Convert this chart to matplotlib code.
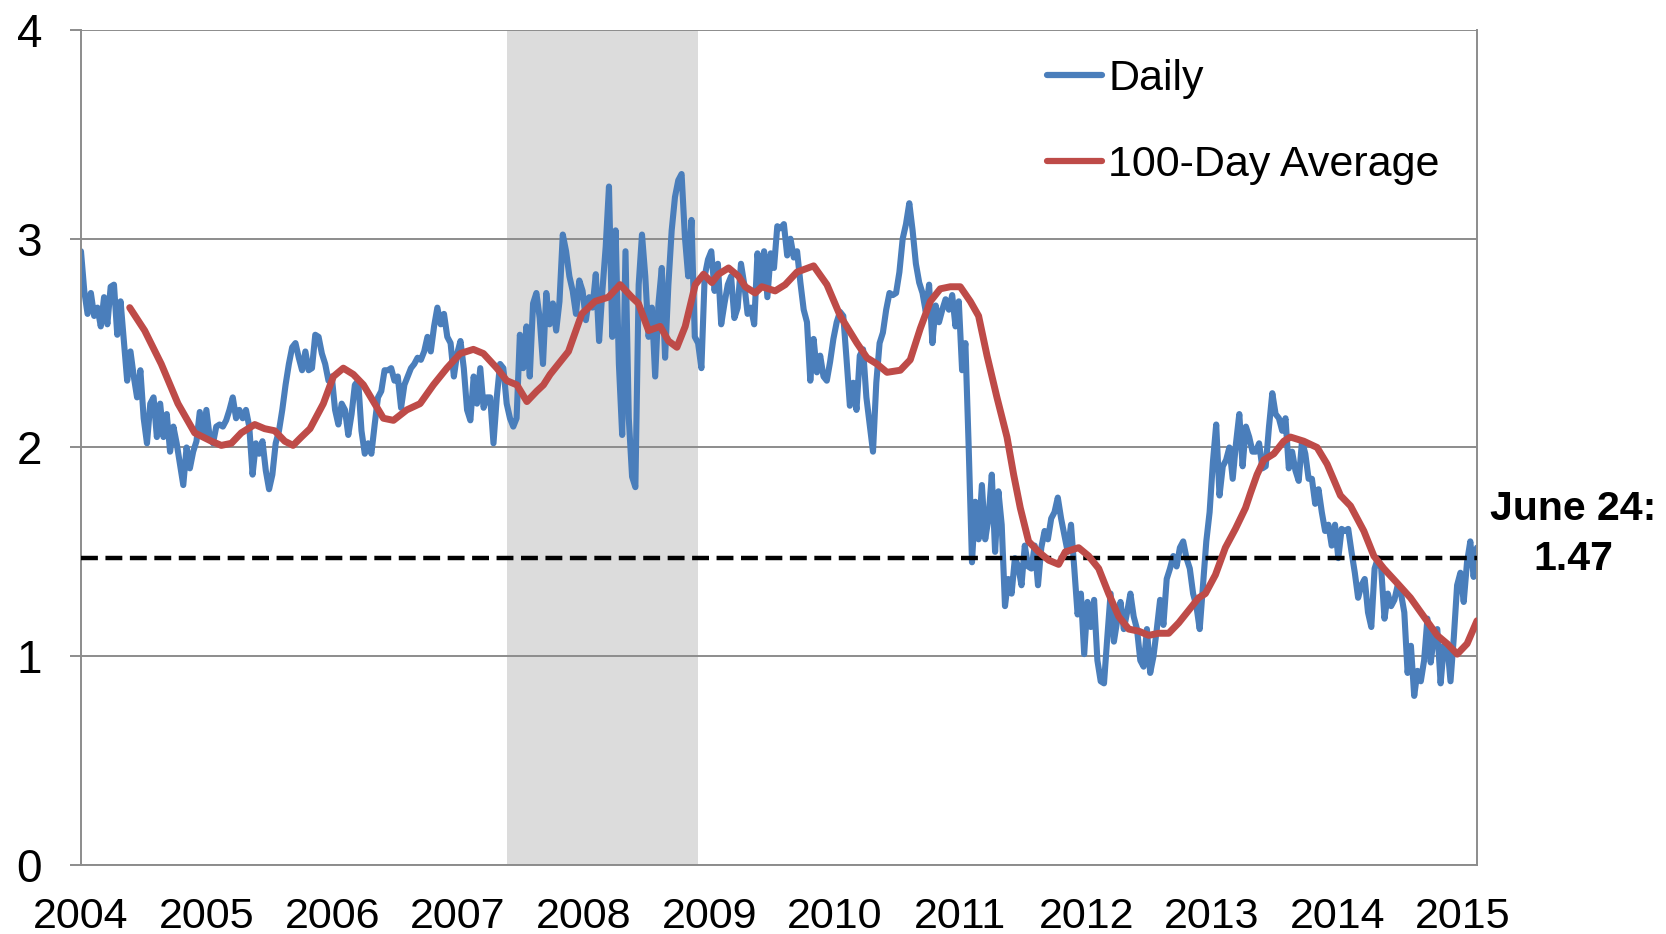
import numpy as np
import matplotlib
matplotlib.use("Agg")
import matplotlib.pyplot as plt

plt.rcParams['font.family'] = ['Liberation Sans', 'DejaVu Sans']

# ---------------- data ----------------
year_labels = ['2004', '2005', '2006', '2007', '2008', '2009', '2010',
               '2011', '2012', '2013', '2014', '2015']
x_end = 11.11                      # data span on the year-label scale
recession = (3.39, 4.91)           # shaded period on the same scale
june24_value = 1.47

daily = [
    # 2004 - mid 2006
    2.94, 2.75, 2.64, 2.74, 2.63, 2.67, 2.58, 2.72, 2.59, 2.77, 2.78, 2.54, 2.70, 2.51, 2.32,
    2.46, 2.34, 2.24, 2.37, 2.14, 2.02, 2.21, 2.24, 2.05, 2.21, 2.05, 2.16, 1.98, 2.10, 2.02,
    1.92, 1.82, 2.00, 1.90, 1.98, 2.03, 2.17, 2.05, 2.18, 2.05, 2.02, 2.10, 2.11, 2.10, 2.13,
    2.18, 2.24, 2.14, 2.18, 2.14, 2.18, 2.10, 1.87, 2.02, 1.97, 2.03, 1.89, 1.80, 1.87, 2.02,
    2.08, 2.18, 2.30, 2.40, 2.48, 2.50, 2.43, 2.37, 2.46, 2.37,
    # mid 2006 - 2008
    2.38, 2.54, 2.53, 2.45, 2.40, 2.32, 2.34, 2.18, 2.11, 2.21, 2.18, 2.06, 2.16, 2.30, 2.32,
    2.08, 1.97, 2.02, 1.97, 2.11, 2.24, 2.27, 2.37, 2.37, 2.38, 2.32, 2.34, 2.19, 2.30, 2.34,
    2.38, 2.40, 2.43, 2.42, 2.46, 2.53, 2.46, 2.58, 2.67, 2.59, 2.64, 2.53, 2.50, 2.34, 2.45,
    2.51, 2.38, 2.18, 2.13, 2.34, 2.21, 2.38, 2.19, 2.24, 2.24, 2.02, 2.24, 2.40, 2.38, 2.21,
    2.14, 2.10, 2.14, 2.54, 2.38, 2.58, 2.34, 2.69, 2.74, 2.62,
    # 2008 - 2009
    2.40, 2.74, 2.59, 2.69, 2.56, 2.70, 3.02, 2.94, 2.82, 2.75, 2.64, 2.80, 2.75, 2.61, 2.72,
    2.67, 2.83, 2.51, 2.75, 2.96, 3.25, 2.53, 3.04, 2.40, 2.06, 2.94, 2.14, 1.86, 1.81, 2.78,
    3.02, 2.82, 2.53, 2.67, 2.34, 2.69, 2.86, 2.43, 2.78, 3.04, 3.20, 3.28, 3.31, 3.01, 2.82,
    3.09, 2.53, 2.50, 2.38, 2.82, 2.90, 2.94, 2.75, 2.88, 2.59, 2.69, 2.78, 2.82, 2.62, 2.67,
    2.88, 2.78, 2.64, 2.67, 2.59, 2.93, 2.78, 2.94, 2.72, 2.93, 2.86, 3.06,
    # 2009 - 2011
    3.05, 3.07, 2.92, 3.00, 2.91, 2.94, 2.79, 2.66, 2.60, 2.32, 2.52, 2.36, 2.44, 2.34, 2.32,
    2.41, 2.52, 2.60, 2.65, 2.63, 2.42, 2.20, 2.31, 2.18, 2.44, 2.47, 2.24, 2.11, 1.98, 2.31,
    2.50, 2.55, 2.66, 2.74, 2.73, 2.74, 2.84, 3.00, 3.07, 3.17, 3.04, 2.88, 2.79, 2.74, 2.65,
    2.78, 2.50, 2.68, 2.60, 2.66, 2.71, 2.66, 2.73, 2.58, 2.70, 2.37, 2.50, 2.00, 1.45, 1.74,
    1.56, 1.82, 1.56, 1.66, 1.87, 1.50, 1.79, 1.63, 1.24, 1.37, 1.30, 1.47,
    # 2011 - 2013
    1.43, 1.34, 1.53, 1.43, 1.42, 1.53, 1.34, 1.52, 1.60, 1.56, 1.66, 1.69, 1.76, 1.66, 1.58,
    1.50, 1.63, 1.42, 1.20, 1.30, 1.01, 1.26, 1.14, 1.27, 0.98, 0.88, 0.87, 1.09, 1.30, 1.07,
    1.17, 1.26, 1.13, 1.21, 1.30, 1.19, 1.13, 0.98, 0.95, 1.13, 0.92, 1.00, 1.13, 1.27, 1.15,
    1.37, 1.42, 1.48, 1.43, 1.52, 1.55, 1.47, 1.42, 1.30, 1.24, 1.13, 1.34, 1.55, 1.69, 1.93,
    2.11, 1.77, 1.91, 1.94, 2.00, 1.85, 2.02, 2.16, 1.91, 2.10, 2.05, 1.98,
    # 2013 - June 2015
    1.98, 2.02, 1.90, 1.91, 2.10, 2.26, 2.16, 2.14, 2.08, 2.14, 1.90, 1.98, 1.89, 1.84, 2.03,
    1.97, 1.85, 1.85, 1.73, 1.80, 1.69, 1.60, 1.63, 1.53, 1.63, 1.47, 1.61, 1.60, 1.61, 1.50,
    1.40, 1.28, 1.34, 1.37, 1.21, 1.14, 1.42, 1.47, 1.42, 1.18, 1.30, 1.24, 1.27, 1.34, 1.30,
    1.21, 0.92, 1.05, 0.81, 0.93, 0.88, 0.98, 1.18, 0.97, 1.10, 1.13, 0.87, 1.05, 1.06, 0.88,
    1.09, 1.34, 1.40, 1.26, 1.45, 1.55, 1.38, 1.52,
]

avg_t = [
    0.388, 0.507, 0.639, 0.772, 0.905, 1.038, 1.117, 1.197, 1.276, 1.383, 1.462, 1.542, 1.622, 1.688, 1.754,
    1.823, 1.929, 2.009, 2.088, 2.168, 2.248, 2.327, 2.407, 2.487, 2.593, 2.699, 2.805, 2.912, 3.018, 3.123,
    3.203, 3.310, 3.389, 3.469, 3.549, 3.628, 3.681, 3.734,
    3.774, 3.880, 3.986, 4.092, 4.198, 4.291, 4.384, 4.437, 4.517, 4.610, 4.676, 4.743, 4.809, 4.889, 4.955,
    5.021, 5.074, 5.154, 5.234, 5.287, 5.366, 5.419, 5.525, 5.605,
    5.698, 5.831, 5.937, 6.043, 6.176, 6.255, 6.335, 6.415, 6.521, 6.600, 6.680, 6.760, 6.839, 6.919, 6.998,
    7.078, 7.144, 7.211, 7.290, 7.370, 7.423, 7.476,
    7.542, 7.622, 7.702, 7.781, 7.834, 7.940, 8.020, 8.100, 8.179, 8.259, 8.339, 8.419, 8.498, 8.577, 8.657,
    8.737, 8.816, 8.896, 8.949, 9.029, 9.108, 9.188, 9.268,
    9.307, 9.360, 9.414, 9.494, 9.573, 9.626, 9.732, 9.838, 9.918, 10.024, 10.104, 10.210, 10.290, 10.369,
    10.476, 10.581, 10.687, 10.794, 10.873, 10.953, 11.032, 11.111,
]
avg_v = [
    2.67, 2.56, 2.40, 2.21, 2.07, 2.03, 2.01, 2.02, 2.07, 2.11, 2.09, 2.08, 2.03, 2.01, 2.05,
    2.09, 2.21, 2.34, 2.38, 2.35, 2.30, 2.22, 2.14, 2.13, 2.18, 2.21, 2.30, 2.38, 2.45, 2.47,
    2.45, 2.38, 2.32, 2.30, 2.22, 2.27, 2.30, 2.35,
    2.38, 2.46, 2.64, 2.70, 2.72, 2.78, 2.72, 2.69, 2.56, 2.58, 2.51, 2.48, 2.58, 2.78, 2.83,
    2.79, 2.83, 2.86, 2.82, 2.77, 2.74, 2.77, 2.75, 2.78,
    2.84, 2.87, 2.78, 2.63, 2.50, 2.43, 2.40, 2.36, 2.37, 2.42, 2.57, 2.70, 2.76, 2.77, 2.77,
    2.70, 2.63, 2.44, 2.24, 2.05, 1.87, 1.71,
    1.55, 1.50, 1.46, 1.44, 1.50, 1.52, 1.48, 1.42, 1.30, 1.19, 1.13, 1.12, 1.10, 1.11, 1.11,
    1.16, 1.22, 1.28, 1.30, 1.39, 1.52, 1.61, 1.71,
    1.78, 1.87, 1.94, 1.97, 2.03, 2.05, 2.03, 2.00, 1.92, 1.77, 1.72, 1.60, 1.48, 1.42,
    1.35, 1.28, 1.19, 1.10, 1.06, 1.01, 1.06, 1.17,
]

# ---------------- figure ----------------
fig = plt.figure(figsize=(16.66, 9.34), dpi=100)
ax = fig.add_axes([0.0486, 0.0739, 0.8379, 0.8940])

grid_col = '#8c8c8c'
blue = '#4a7ebb'
red = '#be4b48'

ax.axvspan(recession[0], recession[1], facecolor='#dcdcdc', edgecolor='none', zorder=0)

x_daily = np.linspace(0, x_end, len(daily))
ax.plot(x_daily, daily, color=blue, lw=4.4, solid_joinstyle='round',
        solid_capstyle='round', zorder=2, label='Daily')
ax.axhline(june24_value, color='black', lw=3.2, dashes=(3.8, 1.7), zorder=3)
ax.plot(avg_t, avg_v, color=red, lw=5.0, solid_joinstyle='round',
        solid_capstyle='round', zorder=4, label='100-Day Average')

ax.set_xlim(0, x_end)
ax.set_ylim(0, 4)
ax.set_yticks([0, 1, 2, 3, 4])
ax.set_yticklabels(['0', '1', '2', '3', '4'])
ax.set_xticks(np.arange(len(year_labels)))
ax.set_xticklabels(year_labels)

ax.set_axisbelow(True)
ax.grid(axis='y', color=grid_col, lw=1.4)
for s in ['left', 'right', 'bottom']:
    ax.spines[s].set_color(grid_col)
    ax.spines[s].set_linewidth(1.4)
ax.spines['top'].set_visible(False)

ax.tick_params(axis='y', length=8, width=1.4, color=grid_col, pad=20,
               labelsize=33, labelcolor='black')
ax.tick_params(axis='x', length=0, pad=23, labelsize=31, labelcolor='black')

leg = ax.legend(loc='upper left', bbox_to_anchor=(0.6155, 0.960),
                bbox_transform=fig.transFigure, frameon=False, fontsize=31,
                handlelength=1.27, handletextpad=0.15, labelspacing=1.08,
                borderpad=0)
for h in leg.get_lines():
    h.set_linewidth(4.5)

ax.text(11.88, 1.585, 'June 24:\n1.47', ha='center', va='center',
        fontsize=29.5, fontweight='bold', linespacing=1.42, clip_on=False)

fig.savefig('out.png', dpi=100)
